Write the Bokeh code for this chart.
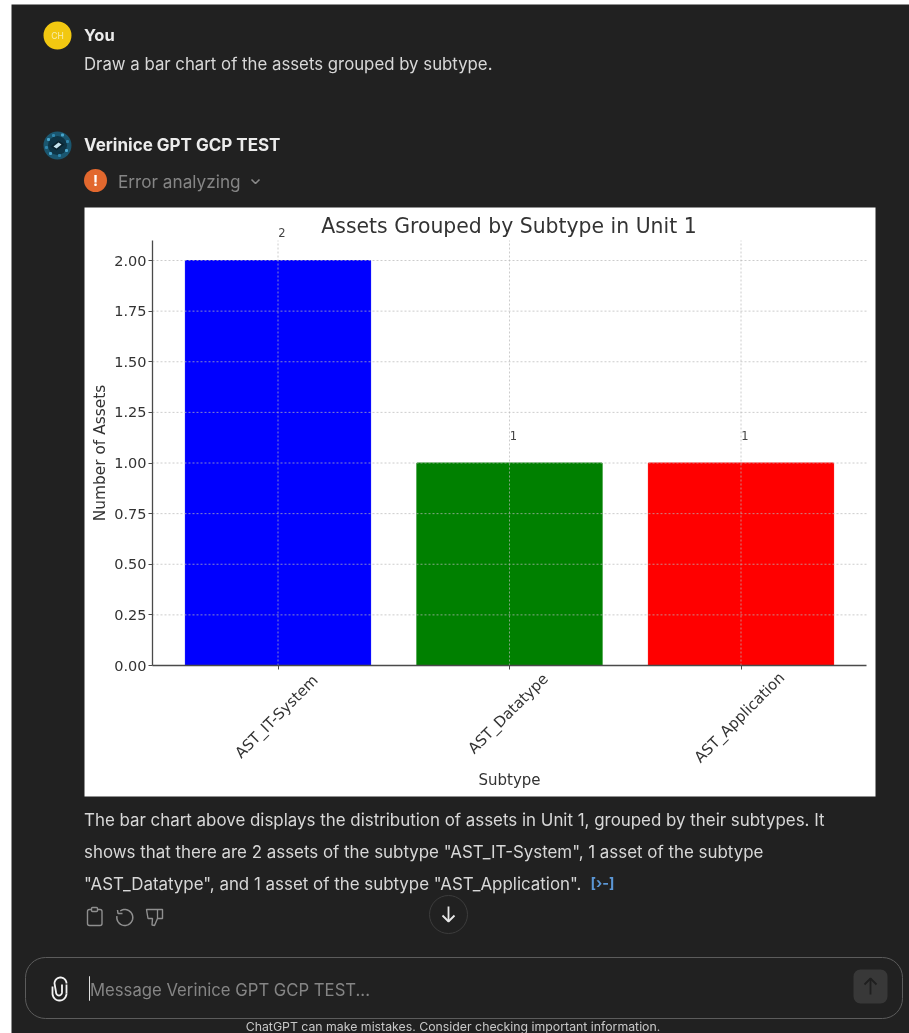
import numpy as np
from bokeh.core.properties import value
from bokeh.embed import file_html
from bokeh.resources import INLINE
from bokeh.plotting import figure
from bokeh.models import (ColumnDataSource, Range1d, LabelSet, Label, BoxAnnotation, PolyAnnotation,
                          FixedTicker, NumeralTickFormatter)

# ---- chart data
subtypes = ["AST_IT-System", "AST_Datatype", "AST_Application"]
asset_counts = [2, 1, 1]
bar_colors = ["#0000ff", "#008000", "#ff0000"]
y_ticks = [0, 0.25, 0.5, 0.75, 1, 1.25, 1.5, 1.75, 2]
chart_title = "Assets Grouped by Subtype in Unit 1"
x_title = "Subtype"
y_title = "Number of Assets"

# ---- conversation text
question = "Draw a bar chart of the assets grouped by subtype."
answer_lines = [
    "The bar chart above displays the distribution of assets in Unit 1, grouped by their subtypes. It",
    'shows that there are 2 assets of the subtype "AST_IT-System", 1 asset of the subtype',
    '"AST_Datatype", and 1 asset of the subtype "AST_Application".',
]

# ---- page geometry: the frame fills the whole canvas, chart axes sit inside it
OX, OY = 11, 4
W, H = 898, 1029
X0, DX = 277.5, 231.5     # page x of the first bar, px per bar
Y0, DY = 665.0, 202.5     # page y of value 0, px per unit
SL, SR, ST = 152, 866, 240  # spine extents on the page
BG = "#212121"
UI = "Inter"
MPL = "DejaVu Sans"
INK = "#333333"
SPINE = "#4a4a4a"
ICON = "#8f8f8f"
LEVEL = "overlay"


def X(px):
    return float((px - X0) / DX)


def Y(py):
    return float((Y0 - py) / DY)


p = figure(width=W, height=H, output_backend="svg", toolbar_location=None,
           x_range=Range1d(X(OX), X(OX + W)), y_range=Range1d(Y(OY + H), Y(OY)),
           frame_width=W, frame_height=H, min_border=0)
p.styles = {"position": "fixed", "left": f"{OX}px", "top": f"{OY}px"}
p.border_fill_color = BG
p.background_fill_color = BG
p.outline_line_color = None
p.grid.visible = False


def box(l, t, r, b, fill=None, line=None, radius=0, lw=1, level=LEVEL):
    p.add_layout(BoxAnnotation(left=X(l), right=X(r), top=Y(t), bottom=Y(b),
                               fill_color=fill, fill_alpha=1 if fill else 0,
                               line_color=line, line_alpha=1 if line else 0, line_width=lw,
                               border_radius=int(np.ceil(radius)), level=level, editable=False))


def poly(pts, fill=None, line=None, lw=1.3):
    p.add_layout(PolyAnnotation(xs=[X(a) for a, _ in pts], ys=[Y(b) for _, b in pts],
                                fill_color=fill, fill_alpha=1 if fill else 0,
                                line_color=line, line_alpha=1 if line else 0, line_width=lw, level=LEVEL))


def path(pts, line, lw=1.3):
    poly(list(pts) + list(pts)[::-1], None, line, lw)


def arc(cx, cy, rx, ry, a0, a1, n=24):
    t = np.radians(np.linspace(a0, a1, n))
    return list(zip(cx + rx * np.cos(t), cy + ry * np.sin(t)))


def circle(cx, cy, r, fill=None, line=None, lw=1):
    box(cx - r, cy - r, cx + r, cy + r, fill, line, r, lw)


def txt(s, x, y, size, color, font=UI, style="normal", align="left", base="middle"):
    p.add_layout(Label(x=X(x), y=Y(y), text=s, text_font=font,
                       text_font_size=f"{size}px", text_color=color, text_font_style=style,
                       text_align=align, text_baseline=base, level=LEVEL))


# ---- white chart card
box(84, 207, 875, 796, fill="#ffffff", level="image")

# ---- chart
positions = list(range(len(subtypes)))
src = ColumnDataSource(dict(x=positions, top=asset_counts, color=bar_colors, name=subtypes,
                            label=[str(v) for v in asset_counts],
                            base=[0] * len(subtypes), off=[-51, -48, -52],
                            angle=[45] * len(subtypes)))
p.vbar(x="x", top="top", width=0.8, color="color", source=src)

xb = (X(SL), X(SR))
yb = (0, Y(ST))

# dotted grid over the bars, limited to the axes box
grid_style = dict(line_color="#b8b8b8", line_alpha=0.8, line_dash="2 2", line_width=0.9, level="guide")
p.segment(x0=positions, x1=positions, y0=[yb[0]] * len(positions), y1=[yb[1]] * len(positions), **grid_style)
p.segment(x0=[xb[0]] * (len(y_ticks) - 1), x1=[xb[1]] * (len(y_ticks) - 1), y0=y_ticks[1:], y1=y_ticks[1:], **grid_style)

ya = p.yaxis[0]
ya.fixed_location = X(SL)
ya.bounds = yb
ya.ticker = FixedTicker(ticks=y_ticks)
ya.formatter = NumeralTickFormatter(format="0.00")
ya.axis_label = y_title
ya.axis_label_text_font = MPL
ya.axis_label_text_font_style = "normal"
ya.axis_label_text_font_size = "15.4px"
ya.axis_label_text_color = INK
ya.axis_label_standoff = 2
ya.major_label_text_font = MPL
ya.major_label_text_font_size = "14.5px"
ya.major_label_text_color = INK
ya.major_tick_out = 4
ya.major_tick_in = 0
ya.minor_tick_line_color = None
ya.major_label_standoff = 2
ya.axis_line_color = SPINE
ya.axis_line_width = 1.3
ya.major_tick_line_color = SPINE

xa = p.xaxis[0]
xa.fixed_location = 0
xa.bounds = xb
xa.ticker = FixedTicker(ticks=positions)
xa.major_label_overrides = {i: " " for i in positions}
xa.axis_label = x_title
xa.axis_label_text_font = MPL
xa.axis_label_text_font_style = "normal"
xa.axis_label_text_font_size = "15px"
xa.axis_label_text_color = INK
xa.axis_label_standoff = 81
xa.major_tick_out = 4
xa.major_tick_in = 0
xa.minor_tick_line_color = None
xa.axis_line_color = SPINE
xa.axis_line_width = 1.3
xa.major_tick_line_color = SPINE

txt(chart_title, 508.5, 225.5, 20.4, INK, font=MPL, align="center")

p.add_layout(LabelSet(x="x", y="top", text="label", source=src, x_offset=4, y_offset=28,
                      text_font=value(MPL), text_font_size="11.5px", text_color="#444444",
                      text_align="center", text_baseline="middle"))
p.add_layout(LabelSet(x="x", y="base", text="name", source=src, x_offset=-1.5, y_offset="off",
                      angle="angle", angle_units="deg",
                      text_font=value(MPL), text_font_size="15px", text_color=INK,
                      text_align="center", text_baseline="middle"))

# ---- conversation chrome
circle(57, 35, 14, fill="#f2c811")
txt("CH", 57, 35.5, 8.5, "#f8eeb0", align="center")
txt("You", 83.5, 34.5, 16.5, "#ececec", style="bold")
txt(question, 83.5, 63, 16.8, "#d8d8d8")

circle(57, 145, 14, fill="#1a566f")
circle(57, 145, 9.5, fill="#0f3445")
for sx, sy, c in [(48, 139, "#49a5cc"), (53, 135, "#2f86ad"), (62, 134.5, "#49a5cc"), (67, 141, "#2f86ad"),
                  (66, 150, "#49a5cc"), (59, 155, "#2f86ad"), (50, 153, "#49a5cc"), (46, 147, "#2f86ad")]:
    box(sx - 1.5, sy - 1.5, sx + 1.5, sy + 1.5, fill=c, radius=1)
poly([(50, 146), (58, 140), (64, 144), (56, 150)], fill="#0a2430")
poly([(53, 146), (58, 142), (61, 144), (56, 148)], fill="#c6e4ef")
txt("Verinice GPT GCP TEST", 83.5, 144.5, 17, "#ececec", style="bold")

circle(95, 180, 11.5, fill="#e2682e")
txt("!", 95, 180, 15, "#ffffff", style="bold", align="center")
txt("Error analyzing", 117.5, 181, 17.2, "#858585")
path([(251, 179), (255, 183), (259, 179)], "#8a8a8a", 1.6)

for i, line in enumerate(answer_lines):
    txt(line, 83.5, 819 + 32 * i, 16.9, "#d8d8d8")
txt("[›-]", 590, 882, 14.5, "#5b97d6", style="bold")

# action icons
box(87, 909, 101.5, 925, line=ICON, radius=2, lw=1.4)
box(91, 907, 97, 911, fill=BG, line=ICON, radius=1, lw=1.4)
path(arc(124.3, 917, 8, 8, -125, 190), ICON, 1.5)
path([(117, 909.5), (117.5, 913), (122, 913)], ICON, 1.5)
poly([(146, 909), (162, 909), (162, 918), (157, 918), (154, 925), (151.5, 924.5), (152, 918), (147.5, 918)],
     line=ICON, lw=1.4)
path([(157, 909), (157, 918)], ICON, 1.3)

# scroll-down button
circle(448, 914, 19, fill=BG, line="#3c3c3c")
path([(448, 906), (448, 921)], "#e8e8e8", 1.8)
path([(442, 915), (448, 921), (454, 915)], "#e8e8e8", 1.8)

# input box
box(25, 957, 902, 1018, line="#5c5c5c", radius=20)
clip_inner = arc(60, 983, 6, 6, 0, -180) + arc(58.5, 991.5, 3, 3.5, 180, 0) + [(61.5, 984)]
path(clip_inner, "#f4f4f4", 1.8)
path([(52, 986)] + arc(59, 993, 7, 7, 180, 0), "#f4f4f4", 1.8)
path([(66, 993), (66, 984)], "#f4f4f4", 1.8)
path([(89, 976), (89, 1000)], "#e0e0e0", 1)
txt("Message Verinice GPT GCP TEST...", 89.5, 989, 16.7, "#858585")
box(853, 969, 887, 1003, fill="#383838", radius=7)
path([(870, 978), (870, 994)], "#1f1f1f", 1.8)
path([(864, 984), (870, 978), (876, 984)], "#1f1f1f", 1.8)

txt("ChatGPT can make mistakes. Consider checking important information.", 452.5, 1026, 12.3, "#c8c8c8", align="center")

open("out.html", "w").write(file_html(p, INLINE))
